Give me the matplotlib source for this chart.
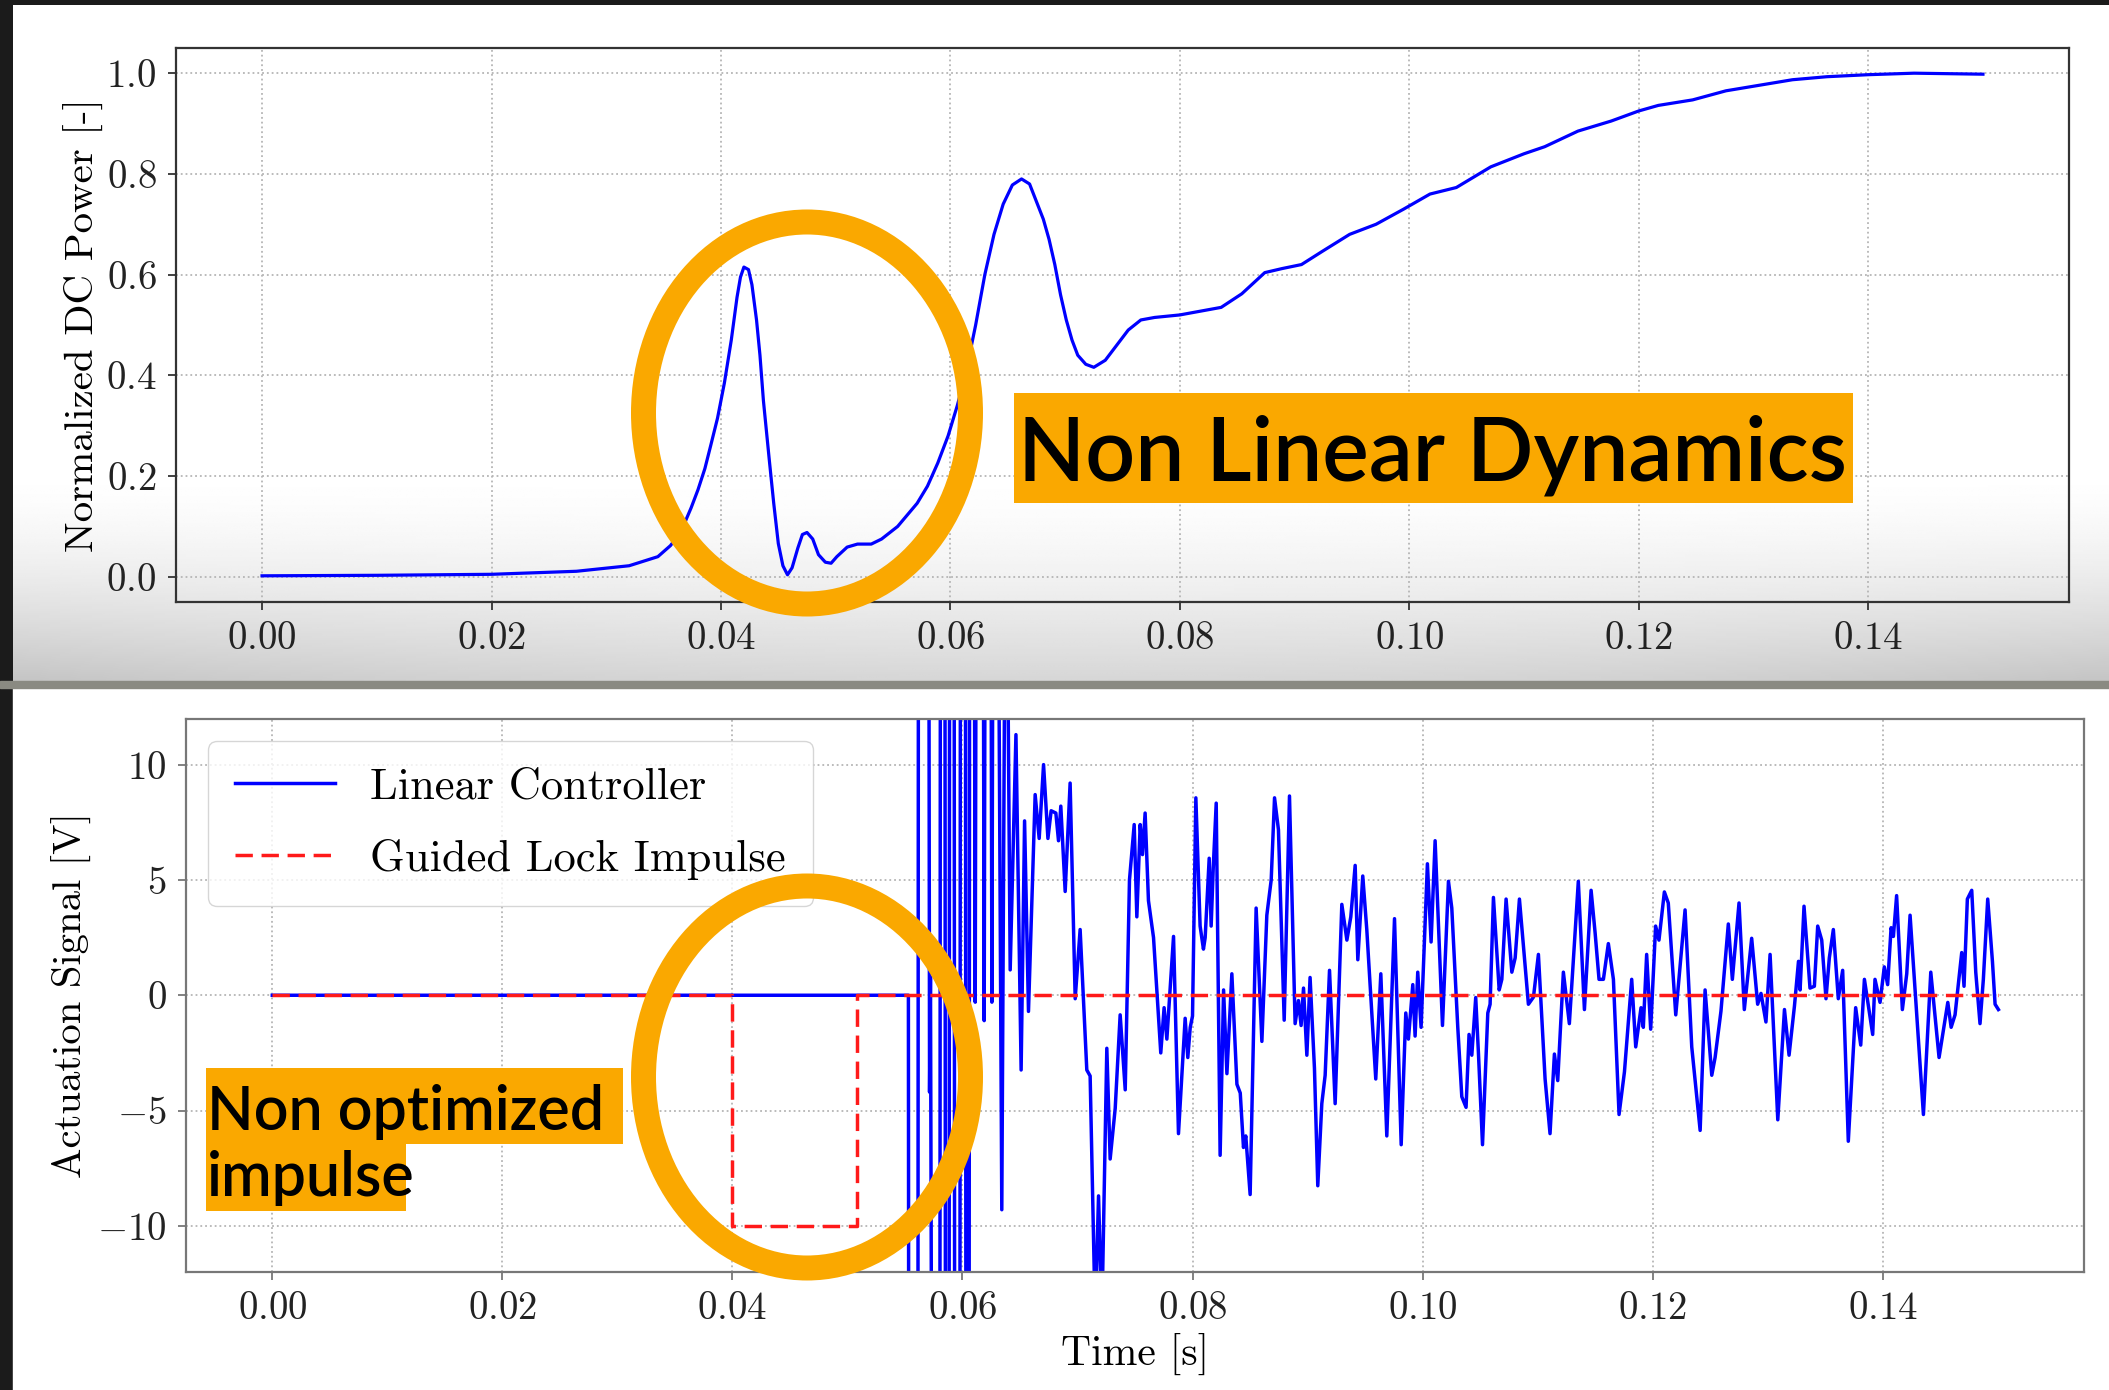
import numpy as np
import matplotlib
matplotlib.use('Agg')
import matplotlib.pyplot as plt
from matplotlib.patches import Ellipse, Rectangle

# puterea DC normalizata (grafic sus)
dc_t = [0.0, 0.010, 0.020, 0.0274, 0.032, 0.0345, 0.0356, 0.0362, 0.0368, 0.0374, 0.0380, 0.0386,
        0.0391, 0.0397, 0.0403, 0.0409, 0.0414, 0.0417, 0.0420, 0.0424, 0.0427, 0.0431, 0.0434,
        0.0437, 0.0442, 0.0446, 0.0450, 0.0454, 0.0458, 0.0462, 0.0467, 0.0471, 0.0475, 0.0480,
        0.0485, 0.0491, 0.0496, 0.0501, 0.0510, 0.0519, 0.0531, 0.0540, 0.0554, 0.0571, 0.0580,
        0.0589, 0.0598, 0.0606, 0.0613, 0.0622, 0.0630, 0.0638, 0.0646, 0.0654, 0.0662, 0.0669,
        0.0675, 0.0681, 0.0686, 0.0691, 0.0696, 0.0701, 0.0706, 0.0711, 0.0718, 0.0725, 0.0735,
        0.0745, 0.0755, 0.0766, 0.0778, 0.0800, 0.0836, 0.0854, 0.0874, 0.0889, 0.0906, 0.0924,
        0.0948, 0.0971, 0.0995, 0.1018, 0.1041, 0.1071, 0.1100, 0.1118, 0.1147, 0.1176, 0.1200,
        0.1217, 0.1247, 0.1276, 0.1305, 0.1334, 0.1364, 0.1400, 0.1440, 0.1500]
dc_p = [0.002, 0.003, 0.005, 0.011, 0.022, 0.040, 0.062, 0.080, 0.105, 0.137, 0.173, 0.215,
        0.26, 0.315, 0.385, 0.47, 0.555, 0.595, 0.615, 0.61, 0.58, 0.51, 0.44,
        0.35, 0.235, 0.146, 0.066, 0.022, 0.004, 0.018, 0.057, 0.084, 0.088, 0.075,
        0.044, 0.029, 0.027, 0.040, 0.059, 0.065, 0.065, 0.075, 0.10, 0.146, 0.18,
        0.226, 0.28, 0.34, 0.40, 0.50, 0.60, 0.68, 0.74, 0.778, 0.79, 0.78,
        0.745, 0.71, 0.67, 0.62, 0.56, 0.51, 0.47, 0.44, 0.422, 0.416, 0.43,
        0.46, 0.49, 0.51, 0.515, 0.52, 0.535, 0.562, 0.604, 0.612, 0.62, 0.646,
        0.68, 0.70, 0.73, 0.76, 0.773, 0.814, 0.84, 0.854, 0.885, 0.905, 0.925,
        0.936, 0.947, 0.965, 0.976, 0.987, 0.993, 0.997, 1.0, 0.998]

# semnalul de actionare al controlerului liniar (grafic jos)
lc_t = [0.0, 0.0553, 0.05534, 0.05612, 0.05618, 0.05706, 0.05714, 0.05722, 0.05736, 0.05803,
        0.05809, 0.05847, 0.05853, 0.05883, 0.05889, 0.05927, 0.05933, 0.05977, 0.05983, 0.06025,
        0.06031, 0.06057, 0.06063, 0.06100, 0.06111, 0.06122, 0.06178, 0.06189, 0.06200, 0.06245,
        0.06256, 0.06268, 0.06305, 0.06342, 0.06378, 0.06392, 0.06415, 0.06465, 0.06510, 0.06540,
        0.06574, 0.06632, 0.06667, 0.06705, 0.06743, 0.06771, 0.06812, 0.06835, 0.06855, 0.06893,
        0.06936, 0.06980, 0.07023, 0.07081, 0.07110, 0.07154, 0.07183, 0.07212, 0.07255, 0.07284,
        0.07328, 0.07371, 0.07415, 0.07452, 0.07493, 0.07516, 0.07545, 0.07565, 0.07588, 0.07617,
        0.07661, 0.07724, 0.07753, 0.07777, 0.07835, 0.07878, 0.07936, 0.07959, 0.07980, 0.08000,
        0.08029, 0.08066, 0.08095, 0.08110, 0.08145, 0.08162, 0.08180, 0.08206, 0.08240, 0.08270,
        0.08299, 0.08342, 0.08386, 0.08415, 0.08443, 0.08463, 0.08501, 0.08553, 0.08603, 0.08646,
        0.08684, 0.08713, 0.08747, 0.08797, 0.08843, 0.08892, 0.08921, 0.08944, 0.08965, 0.08994,
        0.09022, 0.09060, 0.09089, 0.09124, 0.09153, 0.09191, 0.09240, 0.09298, 0.09342, 0.09376,
        0.09414, 0.09437, 0.09480, 0.09515, 0.09593, 0.09637, 0.09689, 0.09756, 0.09814, 0.09854,
        0.09877, 0.09915, 0.09935, 0.09958, 0.09987, 0.10042, 0.10074, 0.10109, 0.10173, 0.10225,
        0.10254, 0.10306, 0.10341, 0.10378, 0.10404, 0.10428, 0.10462, 0.10486, 0.10521, 0.10567,
        0.10587, 0.10616, 0.10666, 0.10689, 0.10726, 0.10776, 0.10805, 0.10842, 0.10886, 0.10920,
        0.10964, 0.11007, 0.11065, 0.11108, 0.11146, 0.11175, 0.11224, 0.11276, 0.11354, 0.11407,
        0.11465, 0.11500, 0.11534, 0.11572, 0.11615, 0.11659, 0.11708, 0.11755, 0.11818, 0.11853,
        0.11899, 0.11919, 0.11948, 0.11983, 0.12026, 0.12055, 0.12102, 0.12136, 0.12201, 0.12239,
        0.12282, 0.12340, 0.12413, 0.12456, 0.12514, 0.12543, 0.12594, 0.12658, 0.12693, 0.12751,
        0.12797, 0.12861, 0.12913, 0.12942, 0.12985, 0.13021, 0.13088, 0.13146, 0.13186, 0.13233,
        0.13268, 0.13282, 0.13316, 0.13368, 0.13406, 0.13435, 0.13470, 0.13507, 0.13536, 0.13571,
        0.13614, 0.13652, 0.13701, 0.13765, 0.13809, 0.13841, 0.13913, 0.13933, 0.13977, 0.14014,
        0.14043, 0.14073, 0.14093, 0.14121, 0.14171, 0.14209, 0.14238, 0.14354, 0.14418, 0.14490,
        0.14566, 0.14595, 0.14629, 0.14687, 0.14707, 0.14736, 0.14774, 0.14809, 0.14846, 0.14875,
        0.14913, 0.14954, 0.14977, 0.15006]
lc_v = [0.0, 0.0, -25, -25, 25, 25, -4.2, 0.8, -25, -25,
        25, 25, -25, -25, 25, 25, -25, -25, 25, 25,
        -25, -25, 25, 25, -0.3, 25, 25, -1.1, 25, 25,
        -0.3, 25, 25, -9.3, 25, 16, 1.1, 11.3, -3.24, 7.56,
        -0.7, 8.7, 6.8, 10.0, 6.8, 8.0, 7.9, 6.7, 8.2, 4.5,
        9.2, -0.15, 2.85, -3.24, -3.5, -14, -8.7, -14, -2.3, -7.1,
        -4.9, -0.85, -4.1, 5.0, 7.4, 3.4, 7.4, 6.1, 7.9, 4.1,
        2.5, -2.5, -0.54, -1.9, 2.55, -6.0, -1.0, -2.7, -1.4, -0.9,
        8.56, 3.0, 2.0, 2.5, 5.94, 3.0, 5.5, 8.33, -6.94, 0.23,
        -3.4, 0.93, -3.86, -4.24, -6.6, -6.1, -8.64, 3.78, -2.0, 3.47,
        5.0, 8.56, 7.18, -1.08, 8.64, -1.23, -0.23, -1.31, 0.31, -2.6,
        0.77, -3.16, -8.26, -4.7, -3.47, 1.08, -4.7, 3.94, 2.39, 3.4,
        5.63, 1.54, 5.17, 2.85, -3.63, 0.93, -6.1, 3.32, -6.48, -0.77,
        -1.9, 0.46, -1.77, 1.0, -1.39, 5.7, 2.31, 6.7, -1.31, 4.94,
        3.78, -1.39, -4.4, -4.86, -1.7, -2.6, -0.1, -2.55, -6.48, -0.77,
        -0.39, 4.24, 0.23, 0.69, 4.17, 1.0, 1.62, 4.17, 1.62, -0.39,
        -0.08, 1.77, -3.63, -6.0, -2.55, -3.7, 1.0, -1.23, 4.94, -0.62,
        4.55, 2.7, 0.69, 0.69, 2.24, 0.69, -5.17, -3.32, 0.69, -2.24,
        -0.54, -1.39, 1.77, -1.47, 3.0, 2.39, 4.48, 4.0, -0.85, 1.31,
        3.7, -2.24, -5.86, 0.23, -3.47, -2.7, -0.69, 3.09, 0.69, 4.0,
        -0.62, 2.47, -0.39, 0.08, -1.16, 1.77, -5.4, -0.62, -2.6, -0.46,
        1.47, 0.23, 3.86, 0.31, 0.39, 3.0, 2.39, -0.15, 1.62, 2.85,
        -0.15, 1.08, -6.33, -0.54, -2.16, 0.69, -1.7, 0.69, -0.31, 1.23,
        0.46, 2.93, 2.55, 4.32, -0.62, 0.93, 3.47, -5.17, 1.0, -2.7,
        -0.31, -1.39, -0.85, 1.85, 0.39, 4.17, 4.55, 1.0, -1.23, 0.69,
        4.17, 1.47, -0.39, -0.62]

# impulsul de blocare ghidat
gl_t = [0.0, 0.040, 0.040, 0.0508, 0.0508, 0.150]
gl_v = [0.0, 0.0, -10.0, -10.0, 0.0, 0.0]

y_ticks_jos = [-10, -5, 0, 5, 10]
x_ticks = [0.00, 0.02, 0.04, 0.06, 0.08, 0.10, 0.12, 0.14]

ORANJ = '#FAA800'

plt.rcParams['font.family'] = 'serif'
plt.rcParams['font.serif'] = ['cmr10']
plt.rcParams['mathtext.fontset'] = 'cm'
plt.rcParams['axes.formatter.use_mathtext'] = True

W, H = 2109, 1390
fig = plt.figure(figsize=(W / 100, H / 100), dpi=100)
fig.patch.set_facecolor('#1b1b1b')

# fundal: panouri albe, umbra gri sub graficul de sus
bg = fig.add_axes([0, 0, 1, 1], zorder=-5)
bg.set_xlim(0, W)
bg.set_ylim(H, 0)
bg.axis('off')
yy = np.linspace(5, 682, 300)[:, None]
xx = np.linspace(13, W, 200)[None, :]
a = np.clip((yy - 470) / (682 - 470), 0, 1) ** 1.6
umbra = 1 - 0.2 * a * (0.8 + 0.35 * ((xx - 1060) / 1050) ** 2)
bg.imshow(umbra, cmap='gray', vmin=0, vmax=1, extent=(13, W, 682, 5), aspect='auto',
          interpolation='bilinear')
bg.add_patch(Rectangle((13, 688), W - 13, H - 688, color='white'))
bg.add_patch(Rectangle((0, 681), W, 7, color='#8a8a82'))

# grafic sus
ax1 = fig.add_axes([176 / W, 1 - 602 / H, (2069 - 176) / W, (602 - 48) / H])
ax1.set_facecolor('none')
ax1.plot(dc_t, dc_p, color='blue', lw=2.3)
ax1.set_xlim(-0.0075, 0.1575)
ax1.set_ylim(-0.05, 1.05)
ax1.set_xticks(x_ticks)
ax1.set_ylabel('Normalized DC Power [-]', fontsize=29.5)
ax1.yaxis.set_label_coords(-0.0486, 0.5)
ax1.yaxis.label.set_va('center')

# grafic jos
ax2 = fig.add_axes([186 / W, 1 - 1272 / H, (2084 - 186) / W, (1272 - 718.5) / H])
ax2.set_facecolor('white')
ax2.plot(lc_t, lc_v, color='blue', lw=2.5, label='Linear Controller')
ax2.plot(gl_t, gl_v, color='#ff1a1a', lw=2.5, ls=(0, (5, 2.5)), label='Guided Lock Impulse')
ax2.set_xlim(-0.0075, 0.1575)
ax2.set_ylim(-12, 12)
ax2.set_xticks(x_ticks)
ax2.set_yticks(y_ticks_jos)
ax2.set_xlabel('Time [s]', fontsize=30)
ax2.xaxis.set_label_coords(0.5, -0.148)
ax2.xaxis.label.set_va('center')
ax2.set_ylabel('Actuation Signal [V]', fontsize=29.3)
ax2.yaxis.set_label_coords(-0.060, 0.5)
ax2.yaxis.label.set_va('center')
ax2.legend(loc='upper left', fontsize=32, handlelength=2.25, handletextpad=0.8,
           borderaxespad=0.5, labelspacing=0.7, borderpad=0.6)

for ax, c in [(ax1, '#333333'), (ax2, '#777777')]:
    ax.grid(True, linestyle=':', color='#b5b5b5', linewidth=1.3)
    ax.set_axisbelow(True)
    for s in ax.spines.values():
        s.set_color(c)
        s.set_linewidth(1.6)
    ax.tick_params(direction='out', length=6, width=1.3, color=c, labelsize=28,
                   labelcolor='#222222', pad=8)

# adnotari portocalii
ov = fig.add_axes([0, 0, 1, 1], zorder=10)
ov.set_xlim(0, W)
ov.set_ylim(H, 0)
ov.axis('off')
ov.patch.set_alpha(0)
for cy in [413, 1077]:
    ov.add_patch(Ellipse((807, cy), 327, 382, fill=False, edgecolor=ORANJ, lw=18))
ov.add_patch(Rectangle((1014, 393), 1853 - 1014, 503 - 393, color=ORANJ, lw=0))
ov.add_patch(Rectangle((206, 1068), 623 - 206, 1144 - 1068, color=ORANJ, lw=0))
ov.add_patch(Rectangle((206, 1143), 406 - 206, 1211 - 1143, color=ORANJ, lw=0))

t1 = ov.text(1018, 481, 'Non Linear Dynamics', fontsize=64, family='Lato', weight='semibold',
             color='black', ha='left', va='baseline')
t2 = ov.text(207, 1130, 'Non optimized', fontsize=45, family='Lato', weight='semibold',
             color='black', ha='left', va='baseline')
t3 = ov.text(207, 1196, 'impulse', fontsize=45, family='Lato', weight='semibold',
             color='black', ha='left', va='baseline')

# potrivim marimea textului pe latimea casetelor
fig.canvas.draw()
r = fig.canvas.get_renderer()
s1 = 830 / t1.get_window_extent(r).width
t1.set_fontsize(64 * s1)
s2 = 398 / t2.get_window_extent(r).width
t2.set_fontsize(45 * s2)
t3.set_fontsize(45 * s2)

fig.savefig('out.png', dpi=100, facecolor=fig.get_facecolor())
